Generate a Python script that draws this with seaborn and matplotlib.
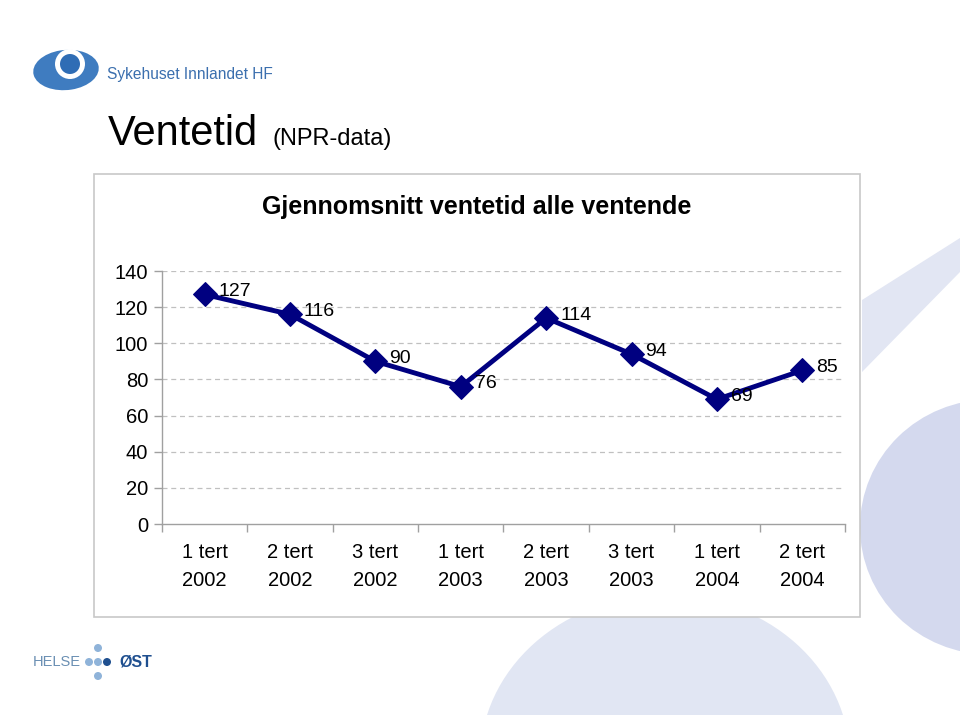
import numpy as np
import pandas as pd
import seaborn as sns
from matplotlib import pyplot as plt
from matplotlib.patches import Rectangle, Ellipse, Polygon

# data
perioder = ['1 tert\n2002', '2 tert\n2002', '3 tert\n2002', '1 tert\n2003',
            '2 tert\n2003', '3 tert\n2003', '1 tert\n2004', '2 tert\n2004']
ventetid = [127, 116, 90, 76, 114, 94, 69, 85]
y_ticks = [0, 20, 40, 60, 80, 100, 120, 140]

sns.set_theme(style='white')
plt.rcParams['font.family'] = ['Liberation Sans', 'DejaVu Sans']
plt.rcParams['text.color'] = 'black'
plt.rcParams['xtick.color'] = 'black'
plt.rcParams['ytick.color'] = 'black'

W, H = 960, 715
fig = plt.figure(figsize=(9.6, 7.15), dpi=100)
fig.patch.set_facecolor('white')


def px(x, y):
    # piksel (fra øvre venstre hjørne) -> figurkoordinater
    return x / W, 1 - y / H


# bakgrunnsformer (lys lilla)
band = [px(862, 300), px(960, 238), px(960, 272), px(862, 372)]
fig.patches.append(Polygon(band, closed=True, transform=fig.transFigure,
                           facecolor='#e2e6f3', edgecolor='none', zorder=0))
fig.patches.append(Ellipse(px(990, 527), 260 / W, 255 / H, transform=fig.transFigure,
                           facecolor='#d4d9ee', edgecolor='none', zorder=0))
fig.patches.append(Ellipse(px(665, 760), 370 / W, 330 / H, transform=fig.transFigure,
                           facecolor='#e1e6f3', edgecolor='none', zorder=0))

# diagramramme
fig.patches.append(Rectangle(px(94, 617), 766 / W, 443 / H, transform=fig.transFigure,
                             facecolor='white', edgecolor='#c8c8c8', linewidth=1.2, zorder=1))

# logo Sykehuset Innlandet
fig.patches.append(Ellipse(px(66, 70), 66 / W, 40 / H, angle=12, transform=fig.transFigure,
                           facecolor='#3f7cc0', edgecolor='none', zorder=2))
fig.patches.append(Ellipse(px(70, 64), 30 / W, 30 / H, transform=fig.transFigure,
                           facecolor='white', edgecolor='none', zorder=3))
fig.patches.append(Ellipse(px(70, 64), 20 / W, 20 / H, transform=fig.transFigure,
                           facecolor='#2f6db5', edgecolor='none', zorder=4))
fig.text(*px(107, 75), 'Sykehuset Innlandet HF', fontsize=11.2, color='#3b6fae', va='center')

fig.text(*px(108, 145), 'Ventetid', fontsize=30, color='black', va='baseline')
fig.text(*px(272, 145), '(NPR-data)', fontsize=17, color='black', va='baseline')

# logo Helse Øst
fig.text(*px(33, 662), 'HELSE', fontsize=10.5, color='#6a8fb3', va='center')
dots = [(89, 662, '#8fb3d9'), (98, 662, '#8fb3d9'), (107, 662, '#1f4f8f'),
        (98, 648, '#8fb3d9'), (98, 676, '#8fb3d9')]
for cx, cy, c in dots:
    fig.patches.append(Ellipse(px(cx, cy), 8 / W, 8 / H, transform=fig.transFigure,
                               facecolor=c, edgecolor='none', zorder=2))
fig.text(*px(119, 662), 'ØST', fontsize=11.5, color='#1f4f8f', va='center', weight='bold')

ax = fig.add_axes([162 / W, 1 - 524 / H, 683 / W, 253 / H])
ax.set_facecolor('none')
ax.set_zorder(5)

df = pd.DataFrame({'periode': perioder, 'ventetid': ventetid})
x = np.arange(len(perioder))
sns.lineplot(x=x, y=df['ventetid'], ax=ax, color='#000080', linewidth=3.5,
             marker='D', markersize=12, markeredgecolor='#000080', sort=False)

for xi, v in zip(x, ventetid):
    ax.annotate(str(v), (xi, v), xytext=(10, 2), textcoords='offset points',
                fontsize=14, va='center', ha='left', color='black')

ax.set_xlim(-0.5, len(perioder) - 0.5)
ax.set_ylim(0, 140)
ax.set_yticks(y_ticks)
ax.set_xticks(x)
ax.set_xticklabels(perioder, fontsize=14.5, linespacing=1.55)
ax.set_xticks(np.arange(-0.5, len(perioder)), minor=True)
ax.tick_params(axis='x', which='major', bottom=True, length=0, pad=14)
ax.tick_params(axis='x', which='minor', bottom=True, length=6, color='#a0a0a0',
               width=1, direction='out')
ax.tick_params(axis='y', left=True, labelsize=14.5, length=6, color='#a0a0a0',
               width=1, direction='out', pad=4, labelcolor='black')
ax.tick_params(axis='x', labelcolor='black')
ax.set_xlabel('')
ax.set_ylabel('')

for yv in y_ticks[1:]:
    ax.axhline(yv, color='#c0c0c0', linestyle=(0, (4, 3)), linewidth=0.9, zorder=0)

for side in ['top', 'right']:
    ax.spines[side].set_visible(False)
for side in ['left', 'bottom']:
    ax.spines[side].set_color('#a0a0a0')
    ax.spines[side].set_linewidth(1)

fig.text(*px(477, 207), 'Gjennomsnitt ventetid alle ventende', fontsize=18, weight='bold',
         ha='center', va='center', color='black')

fig.savefig('out.png', dpi=100)
